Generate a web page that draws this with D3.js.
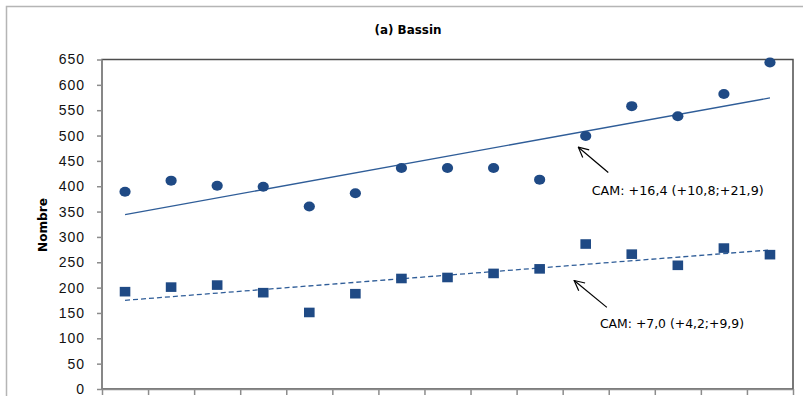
<!DOCTYPE html>
<html lang="fr">
<head>
  <meta charset="UTF-8" />
  <title>(a) Bassin</title>
  <script src="https://d3js.org/d3.v7.min.js"></script>
  <style>
    body { margin: 0; background: #fff; }
    svg { display: block; font-family: "DejaVu Sans", Verdana, sans-serif; }
    .ytick text { font-size: 14px; letter-spacing: 1px; fill: #111; }
    .axis path, .axis line { stroke: #8c8c8c; stroke-width: 1.5; }
  </style>
</head>
<body>
  <svg width="803" height="396"></svg>
  <script>
    // 15 periods, no labels shown on the x axis
    const categories = ["1","2","3","4","5","6","7","8","9","10","11","12","13","14","15"];
    const circleValues = [389, 411, 401, 399, 360, 386, 436, 436, 436, 413, 499, 558, 538, 582, 644];
    const squareValues = [192, 201, 205, 190, 151, 188, 218, 220, 228, 237, 286, 266, 244, 278, 265];
    const yTicks = [0, 50, 100, 150, 200, 250, 300, 350, 400, 450, 500, 550, 600, 650];

    // annotations in data units (category index, value)
    const notes = [
      { text: "CAM: +16,4 (+10,8;+21,9)", tip: [9.84, 477], tail: [10.49, 427], at: [10.13, 383], len: 172 },
      { text: "CAM: +7,0 (+4,2;+9,9)", tip: [9.75, 214], tail: [10.46, 161], at: [10.31, 120], len: 144 }
    ];

    const svg = d3.select("svg");
    const plotLeft = 102, plotRight = 793, plotTop = 59.5, plotBottom = 389;

    const x = d3.scaleBand().domain(categories).range([plotLeft, plotRight]).padding(0);
    const xi = d3.scaleLinear().domain([-0.5, categories.length - 0.5]).range([plotLeft, plotRight]);
    const y = d3.scaleLinear().domain([0, 650]).range([plotBottom, plotTop]);

    // outer chart border
    svg.append("rect")
      .attr("x", 6.5).attr("y", 6.5)
      .attr("width", 820).attr("height", 420)
      .attr("fill", "none").attr("stroke", "#b5b5b5").attr("stroke-width", 1.5);

    // plot area frame
    svg.append("rect")
      .attr("x", plotLeft).attr("y", plotTop)
      .attr("width", plotRight - plotLeft).attr("height", plotBottom - plotTop)
      .attr("fill", "none").attr("stroke", "#4d4d4d").attr("stroke-width", 1.5);

    // title
    svg.append("text")
      .attr("x", 408).attr("y", 34)
      .attr("text-anchor", "middle")
      .attr("font-size", 12).attr("font-weight", "bold")
      .attr("textLength", 67).attr("lengthAdjust", "spacingAndGlyphs")
      .attr("fill", "#000")
      .text("(a) Bassin");

    // y axis label
    svg.append("text")
      .attr("transform", "translate(47,225) rotate(-90)")
      .attr("text-anchor", "middle")
      .attr("font-size", 13).attr("font-weight", "bold")
      .attr("textLength", 54).attr("lengthAdjust", "spacingAndGlyphs")
      .attr("fill", "#000")
      .text("Nombre");

    // y axis
    const yAxis = svg.append("g")
      .attr("class", "axis ytick")
      .attr("transform", `translate(${plotLeft},0)`)
      .call(d3.axisLeft(y).tickValues(yTicks).tickSize(5).tickPadding(12));
    yAxis.select(".domain").remove();
    yAxis.append("line")
      .attr("x1", 0).attr("x2", 0).attr("y1", plotTop).attr("y2", plotBottom)
      .attr("stroke", "#8c8c8c").attr("stroke-width", 1.5);

    // x axis: ticks on category boundaries
    const xEdge = d3.scaleLinear().domain([0, categories.length]).range([plotLeft, plotRight]);
    svg.append("g")
      .attr("class", "axis")
      .attr("transform", `translate(0,${plotBottom})`)
      .call(d3.axisBottom(xEdge).tickValues(d3.range(0, categories.length + 1))
        .tickFormat("").tickSizeInner(6).tickSizeOuter(0));

    // linear trend by least squares over the period index
    function trend(vals) {
      const n = vals.length;
      const mx = d3.mean(vals, (d, i) => i);
      const my = d3.mean(vals);
      let sxy = 0, sxx = 0;
      vals.forEach((v, i) => { sxy += (i - mx) * (v - my); sxx += (i - mx) * (i - mx); });
      const b = sxy / sxx, a = my - b * mx;
      return [[0, a], [n - 1, a + b * (n - 1)]];
    }

    const blue = "#1f4a85";
    const line = d3.line().x(d => xi(d[0])).y(d => y(d[1]));

    svg.append("path")
      .attr("d", line(trend(circleValues)))
      .attr("fill", "none").attr("stroke", "#2f5d98").attr("stroke-width", 1.3);

    svg.append("path")
      .attr("d", line(trend(squareValues)))
      .attr("fill", "none").attr("stroke", "#2f5d98").attr("stroke-width", 1.3)
      .attr("stroke-dasharray", "5,3");

    // markers
    svg.selectAll("ellipse.pt")
      .data(circleValues)
      .enter().append("ellipse")
      .attr("class", "pt")
      .attr("cx", (d, i) => x(categories[i]) + x.bandwidth() / 2)
      .attr("cy", d => y(d))
      .attr("rx", 5.6).attr("ry", 5)
      .attr("fill", blue);

    svg.selectAll("rect.sq")
      .data(squareValues)
      .enter().append("rect")
      .attr("class", "sq")
      .attr("x", (d, i) => x(categories[i]) + x.bandwidth() / 2 - 5.3)
      .attr("y", d => y(d) - 4.8)
      .attr("width", 10.6).attr("height", 9.6)
      .attr("fill", blue);

    // arrow marker
    svg.append("defs").append("marker")
      .attr("id", "head")
      .attr("viewBox", "0 0 12 12")
      .attr("refX", 11).attr("refY", 6)
      .attr("markerWidth", 12).attr("markerHeight", 12)
      .attr("markerUnits", "userSpaceOnUse")
      .attr("orient", "auto")
      .append("path")
      .attr("d", "M1,1 L11,6 L1,11")
      .attr("fill", "none").attr("stroke", "#000").attr("stroke-width", 1.2);

    notes.forEach(n => {
      svg.append("line")
        .attr("x1", xi(n.tail[0])).attr("y1", y(n.tail[1]))
        .attr("x2", xi(n.tip[0])).attr("y2", y(n.tip[1]))
        .attr("stroke", "#000").attr("stroke-width", 1.2)
        .attr("marker-end", "url(#head)");
      svg.append("text")
        .attr("x", xi(n.at[0])).attr("y", y(n.at[1]))
        .attr("font-size", 13)
        .attr("textLength", n.len).attr("lengthAdjust", "spacingAndGlyphs")
        .attr("fill", "#000")
        .text(n.text);
    });
  </script>
</body>
</html>
